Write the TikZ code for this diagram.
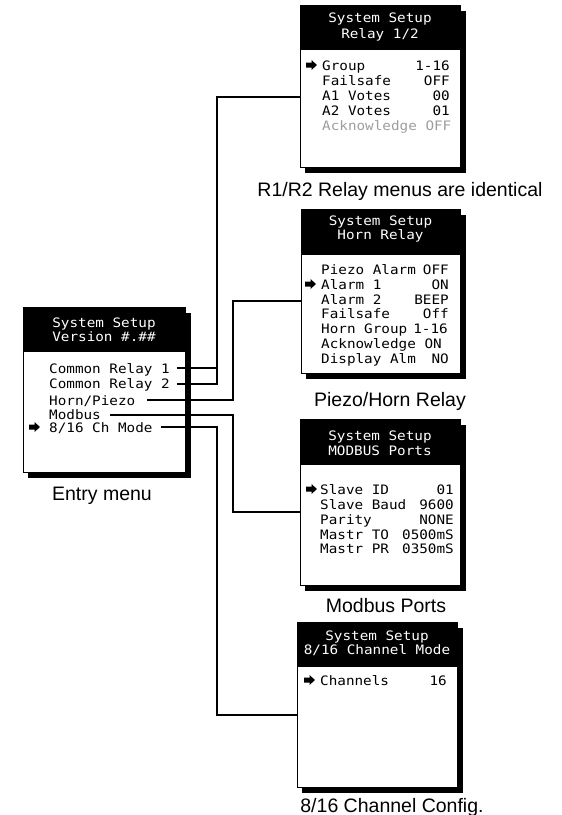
\documentclass[tikz,border=0pt]{standalone}
\usepackage{fontspec}
\newfontfamily\lcdfont[FakeStretch=1.1]{DejaVu Sans Mono}
\newfontfamily\capfont{Liberation Sans}
\definecolor{ackgray}{gray}{0.62}
\newcommand{\selarrow}[2]{\fill[black] (#1,#2) ++(0,-2.5) -- ++(5.5,0) -- ++(0,-2.5) -- ++(5.5,5) -- ++(-5.5,5) -- ++(0,-2.5) -- ++(-5.5,0) -- cycle;}
\newcommand{\menubox}[6]{%
  \fill[black] (#2+5,#3+6) rectangle (#4+6,#5+6);
  \node[menubody, minimum width={#4-#2}, minimum height={#5-#3}] (#1) at (#2,#3) {};
  \fill[black] (#1.north west) rectangle ([yshift=-#6pt]#1.north east);
}
\tikzset{
  menubody/.style={draw=black, fill=white, line width=1pt, inner sep=0pt, outer sep=0pt, anchor=north west},
  htext/.style={text=white, font=\lcdfont\fontsize{13}{13}\selectfont, inner sep=0pt, anchor=base},
  itm/.style={font=\lcdfont\fontsize{13}{13}\selectfont, inner sep=0pt, anchor=base west, text height=10pt, text depth=0pt},
  val/.style={itm, anchor=base east},
  capt/.style={font=\capfont\fontsize{19.5}{20}\selectfont, inner sep=0pt, anchor=base},
  conn/.style={line width=2pt, line join=miter},
}
\begin{document}
\begin{tikzpicture}[x=1pt,y=-1pt]
\useasboundingbox (0,0) rectangle (562,815);

% ---------- Relay 1/2 ----------
\menubox{relay}{300}{5}{460}{167}{45}
\node[htext] (relayH1) at (380,22) {System Setup};
\node[htext] (relayH2) at (380,38) {Relay 1/2};
\selarrow{306}{65}
\node[itm] (rGroup) at (322,70) {Group};      \node[val] (rGroupV) at (450,70) {1-16};
\node[itm] (rFail) at (322,85) {Failsafe};    \node[val] (rFailV) at (450,85) {OFF};
\node[itm] (rA1) at (322,100.5) {A1 Votes};   \node[val] (rA1V) at (450,100.5) {00};
\node[itm] (rA2) at (322,115.5) {A2 Votes};   \node[val] (rA2V) at (450,115.5) {01};
\node[itm, text=ackgray] (rAck) at (322,130) {Acknowledge~OFF};
\node[capt] (relayCap) at (400,196) {R1/R2 Relay menus are identical};

% ---------- Horn Relay ----------
\menubox{horn}{301}{209}{460}{373}{46}
\node[htext] (hornH1) at (380.5,225) {System Setup};
\node[htext] (hornH2) at (380.5,239) {Horn Relay};
\node[itm] (hPiezo) at (321,274) {Piezo Alarm}; \node[val] (hPiezoV) at (449,274) {OFF};
\selarrow{305}{284}
\node[itm] (hA1) at (321,289) {Alarm 1};       \node[val] (hA1V) at (449,289) {ON};
\node[itm] (hA2) at (321,304) {Alarm 2};       \node[val] (hA2V) at (449,304) {BEEP};
\node[itm] (hFail) at (321,318.5) {Failsafe};  \node[val] (hFailV) at (449,318.5) {Off};
\node[itm] (hGroup) at (321,333) {Horn Group}; \node[val] (hGroupV) at (448,333) {1-16};
\node[itm] (hAck) at (321,348) {Acknowledge~ON};
\node[itm] (hDisp) at (321,363) {Display Alm}; \node[val] (hDispV) at (449,363) {NO};
\node[capt] (hornCap) at (390,406) {Piezo/Horn Relay};

% ---------- MODBUS Ports ----------
\menubox{modbus}{300}{419}{460}{585}{46}
\node[htext] (modH1) at (380,440) {System Setup};
\node[htext] (modH2) at (380,455) {MODBUS Ports};
\selarrow{306}{489}
\node[itm] (mId) at (320,494) {Slave ID};      \node[val] (mIdV) at (454,494) {01};
\node[itm] (mBaud) at (320,509) {Slave Baud};  \node[val] (mBaudV) at (454,509) {9600};
\node[itm] (mPar) at (320,524) {Parity};       \node[val] (mParV) at (454,524) {NONE};
\node[itm] (mTO) at (320,539) {Mastr TO};      \node[val] (mTOV) at (454,539) {0500mS};
\node[itm] (mPR) at (320,553) {Mastr PR};      \node[val] (mPRV) at (454,553) {0350mS};
\node[capt] (modCap) at (386,612) {Modbus Ports};

% ---------- 8/16 Channel Mode ----------
\menubox{chan}{297}{622}{457}{787}{45}
\node[htext] (chanH1) at (377,640) {System Setup};
\node[htext] (chanH2) at (377,654) {8/16 Channel Mode};
\selarrow{304}{680}
\node[itm] (cCh) at (320,685) {Channels};      \node[val] (cChV) at (447,685) {16};
\node[capt] (chanCap) at (392,812) {8/16 Channel Config.};

% ---------- Entry menu ----------
\menubox{entry}{23}{307}{185}{472}{45}
\node[htext] (entH1) at (104,327) {System Setup};
\node[htext] (entH2) at (104,341) {Version \#.\#\#};
\node[itm] (eCR1) at (49,373) {Common Relay 1};
\node[itm] (eCR2) at (49,388.5) {Common Relay 2};
\node[itm] (eHorn) at (49,405) {Horn/Piezo};
\node[itm] (eMod) at (49,419) {Modbus};
\selarrow{29}{427}
\node[itm] (eMode) at (49,432) {8/16 Ch Mode};
\node[capt] (entryCap) at (102,500) {Entry menu};

% ---------- connectors ----------
\coordinate (relayIn) at (relay.west |- 0,97);
\coordinate (hornIn) at (horn.west |- 0,301);
\coordinate (modIn) at (modbus.west |- 0,512);
\coordinate (chanIn) at (chan.west |- 0,715);
\coordinate (jRelay) at (217,97);
\coordinate (jHorn) at (233,301);
\coordinate (jMod) at (233,512);
\coordinate (jChan) at (217,715);

\draw[conn] ([xshift=7pt]eCR1.east) -| (jRelay) -- (relayIn);
\draw[conn] ([xshift=7pt]eCR2.east) -| (jRelay);
\draw[conn] ([xshift=12pt]eHorn.east) -| (jHorn) -- (hornIn);
\draw[conn] ([xshift=9pt,yshift=-1pt]eMod.east) -| (jMod) -- (modIn);
\draw[conn] ([xshift=8pt]eMode.east) -| (jChan) -- (chanIn);
\end{tikzpicture}
\end{document}
